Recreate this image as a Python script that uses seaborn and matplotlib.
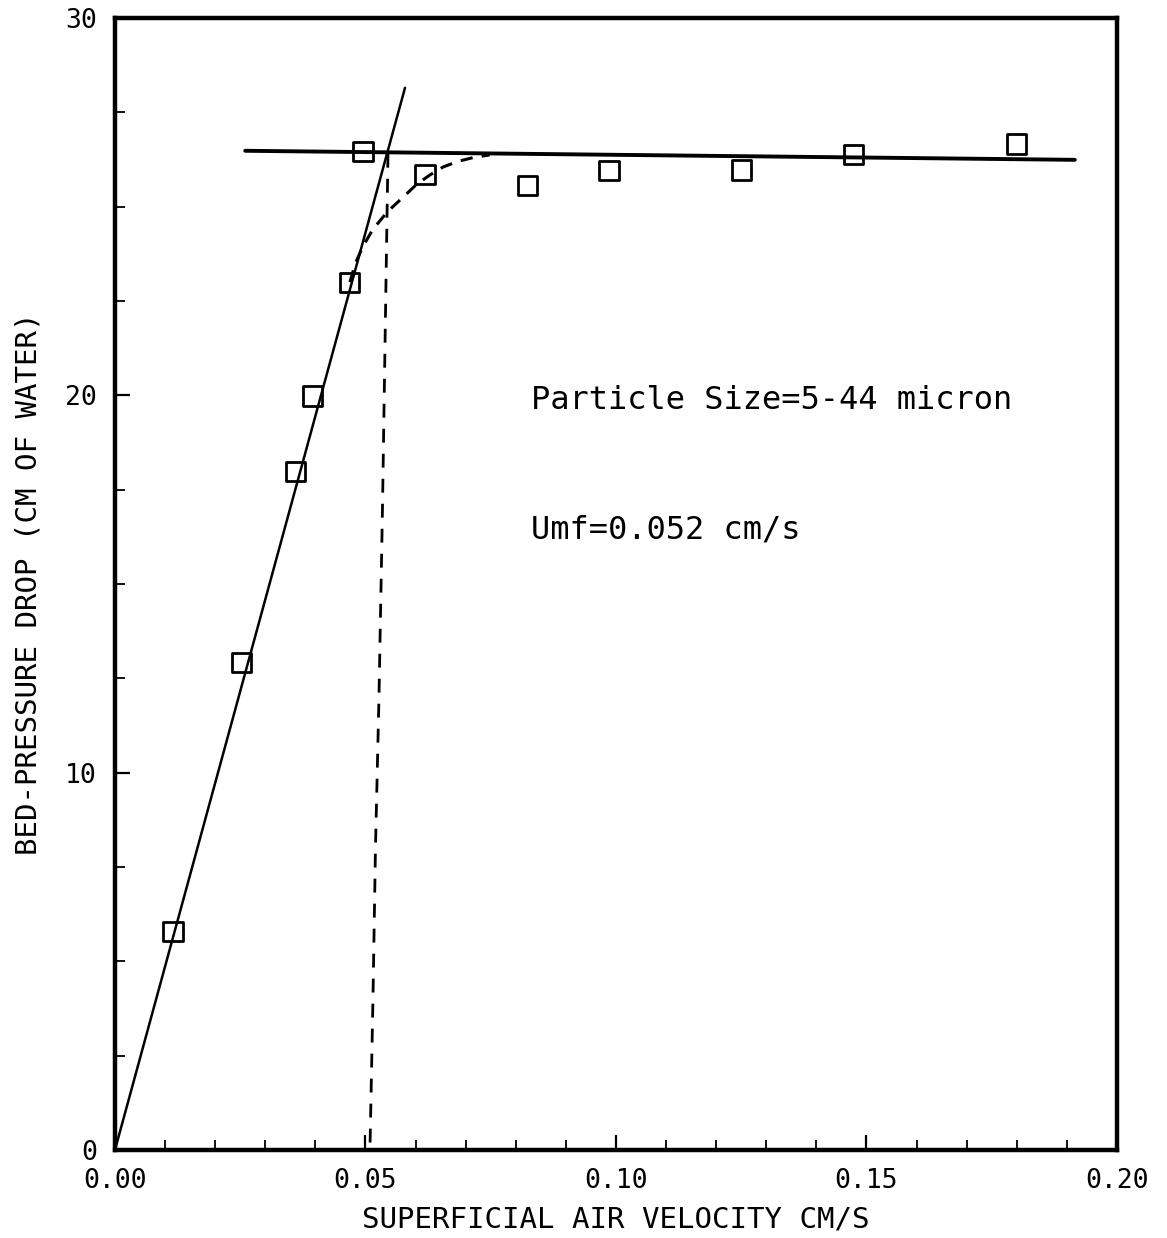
import numpy as np
import pandas as pd
import matplotlib
matplotlib.use("Agg")
import matplotlib.pyplot as plt
import seaborn as sns
from matplotlib.ticker import MultipleLocator

# ---- data ----
velocity = [0.0116, 0.0252, 0.0361, 0.0395, 0.0469, 0.0495, 0.0619, 0.0824, 0.0986, 0.1250, 0.1475, 0.1800]
pressure = [5.78, 12.93, 17.97, 19.98, 23.00, 26.45, 25.84, 25.55, 25.95, 25.97, 26.37, 26.66]

fixed_bed_x = [0.0, 0.0579]
fixed_bed_y = [0.0, 28.15]

fluid_bed_x = [0.026, 0.1916]
fluid_bed_y = [26.48, 26.24]

umf_x = [0.0545, 0.0541, 0.0534, 0.0527, 0.0520, 0.0515, 0.0509]
umf_y = [26.40, 23.00, 17.00, 12.00, 8.00, 4.00, 0.00]

trans_x = [0.0469, 0.0480, 0.0495, 0.0515, 0.0543, 0.0575, 0.0603, 0.0630, 0.0655, 0.0685, 0.0715, 0.0748]
trans_y = [23.00, 23.50, 23.95, 24.40, 24.85, 25.25, 25.60, 25.85, 26.05, 26.20, 26.30, 26.37]

x_ticks = [0.00, 0.05, 0.10, 0.15, 0.20]
x_ticklabels = ["0.00", "0.05", "0.10", "0.15", "0.20"]
y_ticks = [0, 10, 20, 30]
y_ticklabels = ["0", "10", "20", "30"]

note1 = "Particle Size=5-44 micron"
note2 = "Umf=0.052 cm/s"
xlabel = "SUPERFICIAL AIR VELOCITY CM/S"
ylabel = "BED-PRESSURE DROP (CM OF WATER)"

# ---- plot ----
sns.set_style("ticks")
plt.rcParams['font.family'] = ['DejaVu Sans Mono', 'DejaVu Sans']
plt.rcParams['text.color'] = 'black'
plt.rcParams['axes.labelcolor'] = 'black'
plt.rcParams['xtick.color'] = 'black'
plt.rcParams['ytick.color'] = 'black'

fig = plt.figure(figsize=(11.67, 12.38), dpi=100)
ax = fig.add_axes([0.0985, 0.0711, 0.8586, 0.9144])

df_pts = pd.DataFrame({"v": velocity, "p": pressure})
sns.scatterplot(data=df_pts, x="v", y="p", ax=ax, marker="s", s=190,
                facecolors="none", edgecolor="black", linewidth=2.0, zorder=5)

sns.lineplot(x=fixed_bed_x, y=fixed_bed_y, ax=ax, color="black", lw=1.8, sort=False)
sns.lineplot(x=fluid_bed_x, y=fluid_bed_y, ax=ax, color="black", lw=2.8, sort=False)
sns.lineplot(x=umf_x, y=umf_y, ax=ax, color="black", lw=2.0, sort=False,
             linestyle=(0, (5, 4)))
sns.lineplot(x=trans_x, y=trans_y, ax=ax, color="black", lw=2.2, sort=False,
             linestyle=(0, (4, 3)))

ax.set_xlim(0, 0.20)
ax.set_ylim(0, 30)
ax.set_xticks(x_ticks)
ax.set_xticklabels(x_ticklabels)
ax.set_yticks(y_ticks)
ax.set_yticklabels(y_ticklabels)
ax.xaxis.set_minor_locator(MultipleLocator(0.01))
ax.yaxis.set_minor_locator(MultipleLocator(2.5))
ax.tick_params(axis="both", which="major", direction="in", length=11, width=1.6,
               labelsize=19, pad=13, color="black", labelcolor="black")
ax.tick_params(axis="both", which="minor", direction="in", length=7, width=1.3)

for sp in ax.spines.values():
    sp.set_visible(True)
    sp.set_linewidth(3.2)
    sp.set_color("black")

ax.set_xlabel(xlabel, fontsize=21, labelpad=8)
ax.set_ylabel(ylabel, fontsize=21, labelpad=16)

ax.text(0.0830, 19.85, note1, fontsize=23, va="center", ha="left")
ax.text(0.0830, 16.43, note2, fontsize=23, va="center", ha="left")

fig.savefig("out.png", dpi=100)
